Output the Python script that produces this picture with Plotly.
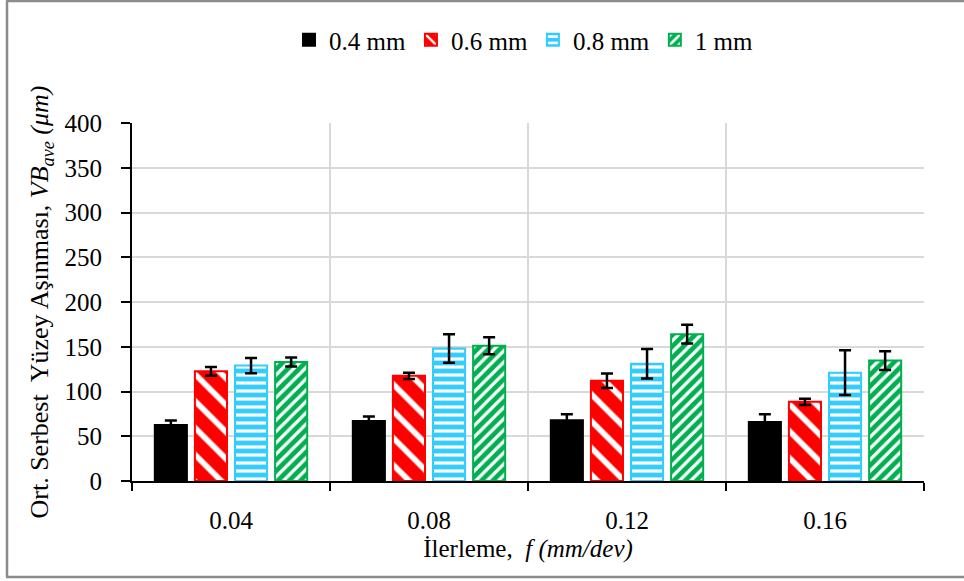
import plotly.graph_objects as go

categories = ["0.04", "0.08", "0.12", "0.16"]
series_names = ["0.4 mm", "0.6 mm", "0.8 mm", "1 mm"]
vals_04 = [62.5, 67, 68, 66]
vals_06 = [122.5, 117.5, 112, 88.5]
vals_08 = [129, 148, 131, 121]
vals_10 = [133, 151, 164, 134.5]
err_04 = [5, 5, 6.5, 8.5]
err_06 = [5, 3.5, 8, 3.5]
err_08 = [8.5, 16, 16.5, 25]
err_10 = [5, 9.5, 10.5, 10.5]

FONT = "Liberation Serif"
FS = 25

W, H = 964, 581
ML, MR, MT, MB = 132, 40, 123, 100
PW, PH = W - ML - MR, H - MT - MB

styles = [
    dict(color="black", line="black", pattern=None),
    dict(color="#FF0000", line="#FF0000",
         pattern=dict(shape="\\", fgcolor="white", bgcolor="#FF0000", size=19, solidity=0.3, fillmode="replace")),
    dict(color="#33CCFF", line="#33CCFF",
         pattern=dict(shape="-", fgcolor="white", bgcolor="#33CCFF", size=8, solidity=0.4, fillmode="replace")),
    dict(color="#00B050", line="#00B050",
         pattern=dict(shape="/", fgcolor="white", bgcolor="#00B050", size=8, solidity=0.4, fillmode="replace")),
]

fig = go.Figure()
for name, vals, errs, st in zip(series_names, [vals_04, vals_06, vals_08, vals_10],
                                [err_04, err_06, err_08, err_10], styles):
    marker = dict(color=st["color"], line=dict(color=st["line"], width=2))
    if st["pattern"] is not None:
        marker["pattern"] = st["pattern"]
    fig.add_trace(go.Bar(
        x=categories, y=vals, name=name, marker=marker,
        error_y=dict(type="data", array=errs, color="black", thickness=2.5, width=6),
    ))

def px2paper_x(px):
    return (px - ML) / PW

def px2paper_y(py):
    return (H - MB - py) / PH

frame = dict(color="#8C8C8C", width=2.5)
fig.update_layout(
    width=W, height=H,
    margin=dict(l=ML, r=MR, t=MT, b=MB),
    paper_bgcolor="white", plot_bgcolor="white",
    font=dict(family=FONT, size=FS, color="black"),
    barmode="group", bargap=0.19, bargroupgap=0.2,
    legend=dict(orientation="h", x=px2paper_x(524), xanchor="center",
                y=px2paper_y(40), yanchor="middle",
                font=dict(family=FONT, size=FS), itemwidth=30,
                traceorder="normal", bgcolor="rgba(0,0,0,0)"),
    showlegend=True,
    shapes=[
        dict(type="line", xref="paper", yref="paper",
             x0=px2paper_x(7), x1=px2paper_x(7), y0=px2paper_y(577), y1=px2paper_y(1), line=frame),
        dict(type="line", xref="paper", yref="paper",
             x0=px2paper_x(6), x1=px2paper_x(970), y0=px2paper_y(1), y1=px2paper_y(1), line=frame),
        dict(type="line", xref="paper", yref="paper",
             x0=px2paper_x(6), x1=px2paper_x(970), y0=px2paper_y(577), y1=px2paper_y(577), line=frame),
    ],
)

fig.update_xaxes(
    type="category", tickson="boundaries", ticks="outside", ticklen=8, tickwidth=2,
    tickcolor="black", showline=True, linecolor="black", linewidth=2,
    showgrid=True, gridcolor="#D9D9D9", gridwidth=1.5,
    tickfont=dict(family=FONT, size=FS), ticklabelstandoff=16,
    title=dict(text="İlerleme,  <i>f (mm/dev)</i>", font=dict(family=FONT, size=FS), standoff=6),
)
fig.update_yaxes(
    range=[0, 400], dtick=50, ticks="outside", ticklen=9, tickwidth=2, tickcolor="black",
    showline=True, linecolor="black", linewidth=2,
    showgrid=True, gridcolor="#D9D9D9", gridwidth=1.5, zeroline=False,
    tickfont=dict(family=FONT, size=FS), ticklabelstandoff=14,
    title=dict(text="Ort. Serbest&nbsp; Yüzey Aşınması, <i>VB<sub>ave</sub> (μm)</i>",
               font=dict(family=FONT, size=26), standoff=8),
)

fig.write_html("out.html")
